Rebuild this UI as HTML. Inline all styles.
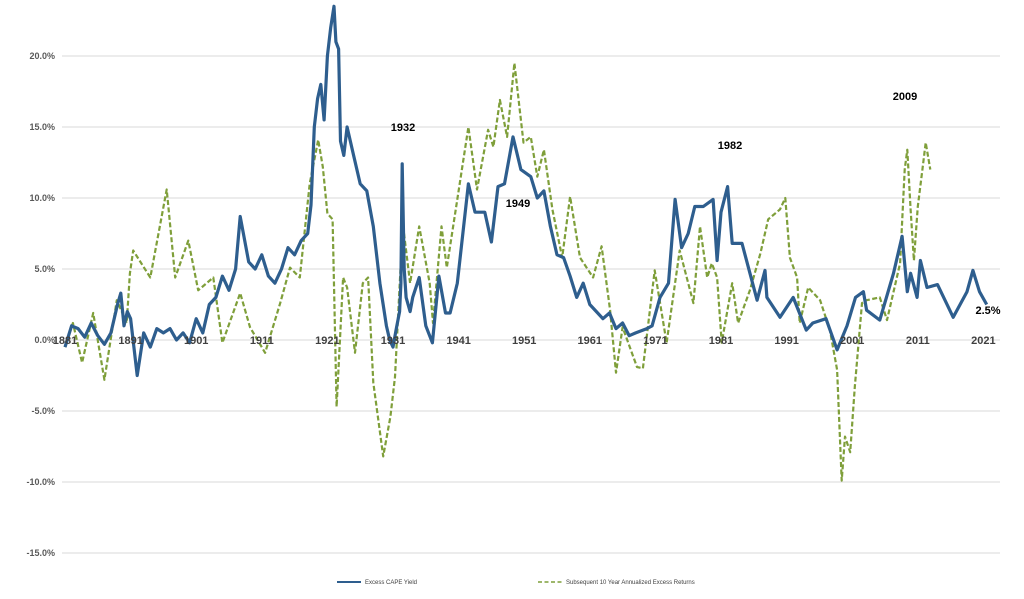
<!DOCTYPE html>
<html><head><meta charset="utf-8">
<style>
body{margin:0;background:#fff;}
svg text{font-family:"Liberation Sans",sans-serif;}
</style></head>
<body>
<svg id="chart" width="1024" height="594" viewBox="0 0 1024 594" xmlns="http://www.w3.org/2000/svg">
<g id="grid"></g>
<g id="yaxis"></g>
<g id="series"></g>
<g id="xaxis"></g>
<g font-weight="bold" font-size="11" fill="#000">
<text x="403" y="131" text-anchor="middle">1932</text>
<text x="518" y="207" text-anchor="middle">1949</text>
<text x="730" y="149" text-anchor="middle">1982</text>
<text x="905" y="100" text-anchor="middle">2009</text>
<text x="988" y="314" text-anchor="middle">2.5%</text>
</g>
<g font-size="6" fill="#404040">
<line x1="337" y1="582" x2="361" y2="582" stroke="#2E5E8E" stroke-width="2"/>
<text x="365" y="584">Excess CAPE Yield</text>
<line x1="538" y1="582" x2="563" y2="582" stroke="#7F9F3A" stroke-width="1.5" stroke-dasharray="4,2.5"/>
<text x="566" y="584">Subsequent 10 Year Annualized Excess Returns</text>
</g>
</svg>
<script>
const yTicks=[20,15,10,5,0,-5,-10,-15];
const xTickYears=[1881,1891,1901,1911,1921,1931,1941,1951,1961,1971,1981,1991,2001,2011,2021];
const capeYears=[1881,1882,1883,1884,1885,1886,1887,1888,1889,1889.5,1890,1890.5,1891,1892,1893,1894,1895,1896,1897,1898,1899,1900,1901,1902,1903,1904,1905,1906,1907,1907.7,1909,1910,1911,1912,1913,1914,1915,1916,1917,1918,1918.5,1919,1919.5,1920,1920.5,1921,1921.5,1922,1922.3,1922.7,1923,1923.5,1924,1925,1926,1927,1928,1929,1930,1930.5,1931,1931.5,1932,1932.2,1932.4,1932.7,1933,1933.6,1934,1935,1936,1937,1938,1939,1939.7,1940.8,1942.5,1943.5,1945,1946,1947,1948,1949.3,1950.5,1952,1953,1954,1955,1956,1957,1958,1959,1960,1961,1962,1963,1964,1965,1966,1967,1968,1969.7,1970.5,1971.7,1973,1974,1975,1976,1977,1978.3,1979.8,1980.4,1981,1982,1982.7,1984.2,1986.5,1987.7,1988,1990,1992,1994,1995,1997,1998.7,2000.2,2001.5,2002.7,2003.2,2005.2,2007.3,2008.6,2009.4,2009.9,2010.9,2011.4,2012.4,2014,2016.4,2018.5,2019.4,2020.4,2021.5,2023];
const capeValues=[-0.5,1,0.8,0.2,1.2,0.3,-0.3,0.5,2.5,3.3,1,2,1.5,-2.5,0.5,-0.5,0.8,0.5,0.8,0,0.5,-0.2,1.5,0.5,2.5,3,4.5,3.5,5,8.7,5.5,5,6,4.5,4,5,6.5,6,7,7.5,9.5,15,17,18,15.5,20,22,23.5,21,20.5,14,13,15,13,11,10.5,8,4,1,0,-0.5,0.8,2,4,12.4,5,3,2,3,4.4,1,-0.2,4.5,1.9,1.9,4,11,9,9,6.9,10.8,11,14.3,12,11.5,10,10.5,8,6,5.8,4.5,3,4,2.5,2,1.5,1.9,0.8,1.2,0.3,0.5,0.8,1,3,4,9.9,6.5,7.5,9.4,9.4,9.9,5.6,9,10.8,6.8,6.8,2.8,4.9,3,1.6,3,0.7,1.2,1.5,-0.7,1,3,3.4,2.1,1.4,4.7,7.3,3.4,4.7,3,5.6,3.7,3.9,1.6,3.4,4.9,3.4,2.5];
const retYears=[1881,1882.2,1883.6,1885.3,1887,1888.9,1890.4,1890.9,1891.4,1894,1896.5,1897.8,1899.8,1901.3,1903.6,1905,1907.7,1909.2,1911.5,1913.8,1915.3,1916.8,1918.3,1919.6,1920.3,1921,1921.8,1922.4,1923.4,1924,1925.2,1926.4,1927.2,1928,1929.5,1930.6,1931.3,1932.5,1933.6,1935,1936.6,1937.1,1938.4,1939.2,1940.8,1942.5,1943.8,1945.5,1946.3,1947.3,1948.4,1949.5,1950.9,1952,1953,1954,1955.3,1956.8,1958,1959.5,1961.5,1962.8,1964.1,1965,1966,1968.2,1969.1,1970.9,1972.7,1974.7,1976.8,1977.8,1978.9,1979.6,1980.4,1981.1,1982.7,1983.6,1985.4,1987,1988.2,1990,1990.8,1991.5,1992.6,1993,1994.3,1996.1,1997.6,1998.7,1999.4,1999.9,2000.7,2001.4,2002.5,2003.2,2005.2,2006.3,2008.3,2009,2009.4,2009.9,2010.4,2011,2011.7,2012.2,2012.9];
const retValues=[-0.5,1.2,-1.6,1.9,-2.8,2.8,1.2,4.7,6.3,4.4,10.6,4.4,7,3.5,4.4,-0.2,3.3,0.9,-0.9,2.6,5.1,4.4,11,14.1,12.2,8.9,8.5,-4.7,4.4,3.7,-0.9,4,4.4,-3,-8.2,-5.4,-2.6,8.2,4,8,4,1.2,8,5.1,9.9,15,10.6,14.8,13.6,16.9,14.3,19.5,13.9,14.3,11.5,13.4,9.2,5.8,10.1,5.8,4.4,6.6,2.1,-2.3,0.9,-1.9,-2,4.9,-0.2,6.3,2.6,8,4.4,5.4,4.4,-0.2,4,1.2,3.5,6.1,8.5,9.2,10,5.8,4.4,1.2,3.7,2.8,0.7,-2.1,-9.9,-6.8,-7.9,-3.3,2.6,2.8,3,1.4,5.4,12,13.4,9.2,5.6,9.4,12,13.9,12];

const NS='http://www.w3.org/2000/svg';
const xs=yr=>65+(yr-1881)*6.56;
const ys=v=>340-v*14.2;
const grid=document.getElementById('grid'),yax=document.getElementById('yaxis'),xax=document.getElementById('xaxis'),ser=document.getElementById('series');
function mk(tag,attrs,parent){const e=document.createElementNS(NS,tag);for(const k in attrs)e.setAttribute(k,attrs[k]);parent.appendChild(e);return e;}
yTicks.forEach(v=>{
  const l=mk('line',{x1:62,x2:1000,y1:ys(v),y2:ys(v),stroke:'#d9d9d9','stroke-width':1},grid);
  
  
  const t=mk('text',{x:55,y:ys(v)+3,'text-anchor':'end','font-size':'9','font-weight':'bold',fill:'#595959'},yax);
  t.textContent=v.toFixed(1)+'%';
  
  
});
function path(xsArr,vals,attrs,name){
  let d='';xsArr.forEach((x,i)=>{d+=(i?'L':'M')+xs(x).toFixed(1)+','+ys(vals[i]).toFixed(1);});
  const p=mk('path',Object.assign({d:d,fill:'none','stroke-linejoin':'round'},attrs),ser);
  
  
}
path(retYears,retValues,{stroke:'#7F9F3A','stroke-width':2.2,'stroke-dasharray':'5,2.5'},'returns-line');
path(capeYears,capeValues,{stroke:'#2E5E8E','stroke-width':3.2},'cape-yield-line');
xTickYears.forEach(yr=>{
  const t=mk('text',{x:xs(yr),y:344,'text-anchor':'middle','font-size':'11','font-weight':'bold',fill:'#404040'},xax);
  t.textContent=yr;
  
  
});
</script>
</body></html>
